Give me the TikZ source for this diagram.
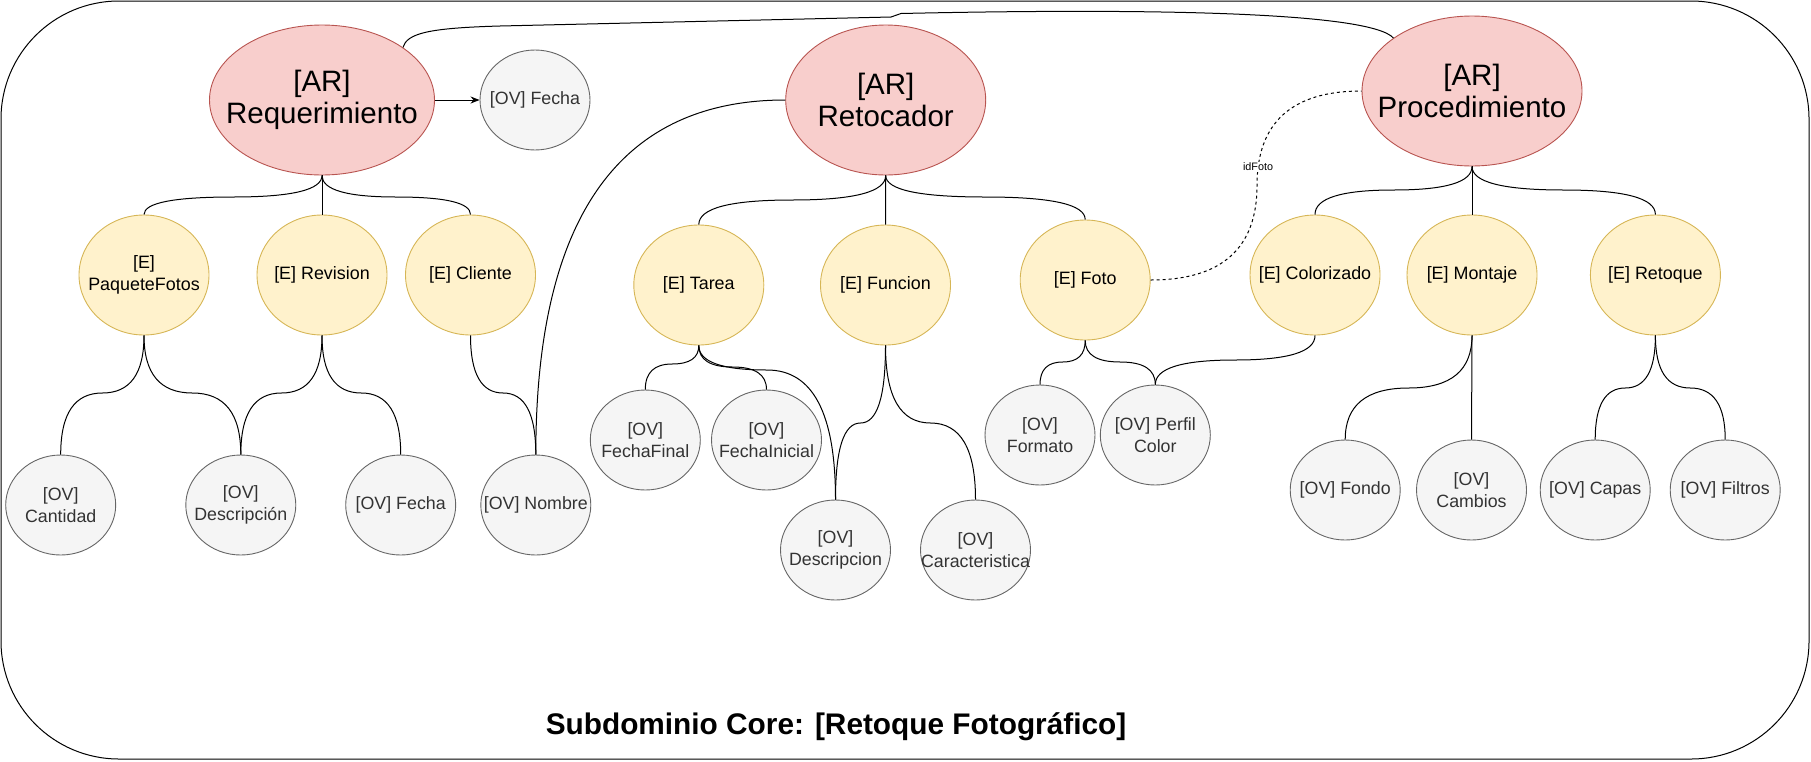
\documentclass[tikz,border=0pt]{standalone}
\usepackage{fontspec}
\setmainfont{Liberation Sans}
\usetikzlibrary{shapes.geometric,calc,arrows.meta}
\definecolor{arF}{HTML}{F8CECC}
\definecolor{arS}{HTML}{B85450}
\definecolor{eF}{HTML}{FFF2CC}
\definecolor{eS}{HTML}{D6B656}
\definecolor{ovF}{HTML}{F5F5F5}
\definecolor{ovS}{HTML}{666666}
\definecolor{ovT}{HTML}{333333}
\begin{document}
\begin{tikzpicture}[x=1pt,y=-1pt,
  base/.style={ellipse, inner xsep=-40pt, inner ysep=-30pt, align=center, line width=0.9pt},
  ar/.style={base, draw=arS, fill=arF, minimum height=150pt, font=\fontsize{29.5}{32}\selectfont},
  ent/.style={base, draw=eS, fill=eF, minimum width=130pt, minimum height=120pt, font=\fontsize{17.9}{21.5}\selectfont},
  ov/.style={base, draw=ovS, fill=ovF, text=ovT, minimum width=110pt, minimum height=100pt, font=\fontsize{17.8}{21.5}\selectfont},
  link/.style={line width=1pt},
  dashlink/.style={line width=1pt, dash pattern=on 3pt off 3pt},
  lbl/.style={fill=white, inner sep=1pt, font=\fontsize{10.8}{12}\selectfont},
  titletext/.style={font=\fontsize{29.8}{34}\selectfont\bfseries},
  orth/.style={to path={let \p1=(\tikztostart), \p2=(\tikztotarget) in
     .. controls (\x1,{\y1/3-2*#1pt/3}) and ({(5*\x1+\x2)/6},{-#1pt}) .. ({(\x1+\x2)/2},{-#1pt})
     .. controls ({(\x1+5*\x2)/6},{-#1pt}) and (\x2,{\y2/3-2*#1pt/3}) .. (\tikztotarget)}},
  orthv/.style={to path={let \p1=(\tikztostart), \p2=(\tikztotarget) in
     .. controls ({\x1/3+2*#1pt/3},\y1) and (#1pt,{(5*\y1+\y2)/6}) .. (#1pt,{(\y1+\y2)/2})
     .. controls (#1pt,{(\y1+5*\y2)/6}) and ({\x2/3+2*#1pt/3},\y2) .. (\tikztotarget)}},
  quadhv/.style={to path={let \p1=(\tikztostart), \p2=(\tikztotarget) in
     .. controls ({\x1/3+2*\x2/3},\y1) and (\x2,{\y2/3+2*\y1/3}) .. (\tikztotarget)}}
]
\useasboundingbox (0,0) rectangle (1811,761);
\draw[line width=1pt, rounded corners=118pt] (1,1) rectangle (1809,759);

% aggregate roots
\node[ar, minimum width=225pt] (req) at (322,100) {[AR]\\Requerimiento};
\node[ar, minimum width=200pt] (reto) at (885.7,100) {[AR]\\Retocador};
\node[ar, minimum width=220pt] (proc) at (1472,91) {[AR]\\Procedimiento};

% entities
\node[ent] (paq) at (144,275) {[E]\\PaqueteFotos};
\node[ent] (rev) at (322,275) {[E] Revision};
\node[ent] (cli) at (470.5,275) {[E] Cliente};
\node[ent] (tarea) at (698.8,285) {[E] Tarea};
\node[ent] (func) at (885.5,285) {[E] Funcion};
\node[ent] (foto) at (1085.2,280) {[E] Foto};
\node[ent] (color) at (1315,275) {[E] Colorizado};
\node[ent] (mont) at (1472,275) {[E] Montaje};
\node[ent] (retq) at (1655.4,275) {[E] Retoque};

% value objects
\node[ov] (fechaTop) at (535,100) {[OV] Fecha};
\node[ov] (cant) at (60.7,505) {[OV]\\Cantidad};
\node[ov] (descA) at (240.8,505) {[OV]\\Descripción};
\node[ov] (fechaB) at (400.7,505) {[OV] Fecha};
\node[ov] (nombre) at (535.8,505) {[OV] Nombre};
\node[ov] (ffin) at (645.3,440) {[OV]\\FechaFinal};
\node[ov] (fini) at (766.5,440) {[OV]\\FechaInicial};
\node[ov] (descB) at (835.5,550) {[OV]\\Descripcion};
\node[ov] (carac) at (975.5,550) {[OV]\\Caracteristica};
\node[ov] (form) at (1040,435) {[OV]\\Formato};
\node[ov] (perfil) at (1155.3,435) {[OV] Perfil\\Color};
\node[ov] (fondo) at (1345.2,490) {[OV] Fondo};
\node[ov] (camb) at (1471.5,490) {[OV]\\Cambios};
\node[ov] (capas) at (1595.2,490) {[OV] Capas};
\node[ov] (filt) at (1725.2,490) {[OV] Filtros};

% root -> entity
\draw[link] (req.south) to[orth=197] (paq.north);
\draw[link] (req.south) -- (rev.north);
\draw[link] (req.south) to[orth=197] (cli.north);
\draw[link] (reto.south) to[orth=200] (tarea.north);
\draw[link] (reto.south) -- (func.north);
\draw[link] (reto.south) to[orth=197] (foto.north);
\draw[link] (proc.south) to[orth=190] (color.north);
\draw[link] (proc.south) -- (mont.north);
\draw[link] (proc.south) to[orth=190] (retq.north);

% entity -> value objects
\draw[link] (paq.south) to[orth=393] (cant.north);
\draw[link] (paq.south) to[orth=393] (descA.north);
\draw[link] (rev.south) to[orth=393] (descA.north);
\draw[link] (rev.south) to[orth=393] (fechaB.north);
\draw[link] (cli.south) to[orth=393] (nombre.north);
\draw[link] (tarea.south) to[orth=364] (ffin.north);
\draw[link] (tarea.south) to[orth=367] (fini.north);
\draw[link] (tarea.south) to[orth=370] (descB.north);
\draw[link] (func.south) to[orth=423] (descB.north);
\draw[link] (func.south) to[orth=423] (carac.north);
\draw[link] (foto.south) to[orth=362] (form.north);
\draw[link] (foto.south) to[orth=362] (perfil.north);
\draw[link] (color.south) to[orth=360] (perfil.north);
\draw[link] (mont.south) to[orth=388] (fondo.north);
\draw[link] (mont.south) -- (camb.north);
\draw[link] (retq.south) to[orth=388] (capas.north);
\draw[link] (retq.south) to[orth=388] (filt.north);

% other links
\draw[link, -{Stealth[length=9pt,width=7pt]}] (req.east) -- (fechaTop.west);
\draw[link] (reto.west) to[quadhv] (nombre.north);
\coordinate (k0) at (500,26);
\coordinate (k1) at (891,17);
\coordinate (k2) at (901,13.5);
\draw[link] (req.33) .. controls (407,33) and (430,28) .. (k0) -- (k1) -- (k2)
   .. controls (1150,8) and (1370,12) .. (proc.146);
\draw[dashlink] (foto.east) to[orthv=1257] (proc.west);
\node[lbl] (idfoto) at (1258,167) {idFoto};

\node[titletext] (title) at (836,727) {Subdominio Core: [Retoque Fotográfico]};
\end{tikzpicture}
\end{document}
